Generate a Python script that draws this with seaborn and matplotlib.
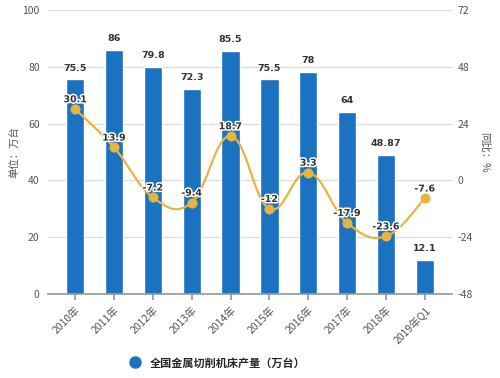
import numpy as np
import pandas as pd
import matplotlib
matplotlib.use('Agg')
import matplotlib.pyplot as plt
import matplotlib.patheffects as pe
from matplotlib.path import Path
from matplotlib.patches import PathPatch
from matplotlib.lines import Line2D
import seaborn as sns

# data
years = ['2010年', '2011年', '2012年', '2013年', '2014年', '2015年',
         '2016年', '2017年', '2018年', '2019年Q1']
output = [75.5, 86, 79.8, 72.3, 85.5, 75.5, 78, 64, 48.87, 12.1]
growth = [30.1, 13.9, -7.2, -9.4, 18.7, -12, 3.3, -17.9, -23.6, -7.6]
bar_labels = ['75.5', '86', '79.8', '72.3', '85.5', '75.5', '78', '64', '48.87', '12.1']
growth_labels = ['30.1', '13.9', '-7.2', '-9.4', '18.7', '-12', '3.3', '-17.9', '-23.6', '-7.6']

BLUE = '#1b72c0'
GOLD = '#e8b440'
GRID = '#dcdcdc'
TXT = '#555555'

sns.set_theme(style='white')
plt.rcParams['font.family'] = ['Noto Sans CJK SC', 'DejaVu Sans']
plt.rcParams['axes.unicode_minus'] = False

df = pd.DataFrame({'year': years, 'output': output})

fig = plt.figure(figsize=(5, 3.78), dpi=100)
ax = fig.add_axes([0.096, 0.222, 0.808, 0.752])
sns.barplot(data=df, x='year', y='output', color=BLUE, saturation=1,
            width=0.47, ax=ax, zorder=2)
ax.set_ylim(0, 100)
ax.set_yticks([0, 20, 40, 60, 80, 100])
ax.set_xlim(-0.7, 9.7)
ax.grid(axis='y', color=GRID, linewidth=0.9, zorder=0)
ax.set_axisbelow(True)
for s in ['top', 'right', 'left']:
    ax.spines[s].set_visible(False)
ax.spines['bottom'].set_color('#999999')
ax.tick_params(axis='y', length=0, labelsize=7.5, labelcolor=TXT, pad=6)
ax.tick_params(axis='x', length=4, color='#999999', labelsize=7.5,
               labelcolor=TXT, bottom=True, direction='out')
plt.setp(ax.get_xticklabels(), rotation=45, ha='right', rotation_mode='anchor')
ax.set_xlabel('')
ax.set_ylabel('单位：万台', fontsize=7.5, color=TXT, labelpad=2)

num_font = dict(family='DejaVu Sans', fontweight='bold', fontsize=6.8)

for i, (v, lab) in enumerate(zip(output, bar_labels)):
    ax.annotate(lab, (i, v), xytext=(0, 5), textcoords='offset points',
                ha='center', va='bottom', color='#333333', **num_font)

ax2 = ax.twinx()
ax2.set_ylim(-48, 72)
ax2.set_yticks([-48, -24, 0, 24, 48, 72])
for s in ax2.spines.values():
    s.set_visible(False)
ax2.tick_params(axis='y', length=0, labelsize=7.5, labelcolor=TXT, pad=4)
ax2.set_ylabel('同比：%', fontsize=7.5, color=TXT, rotation=270, labelpad=12)

# smooth curve through the points (bezier, drawn in data coordinates)
xs = np.arange(len(growth), dtype=float)
ys = np.array(growth, dtype=float)
pts = np.column_stack([xs, ys])
verts = [pts[0]]
codes = [Path.MOVETO]
k = 0.2
for i in range(len(pts) - 1):
    p0 = pts[i - 1] if i > 0 else pts[i]
    p1 = pts[i]
    p2 = pts[i + 1]
    p3 = pts[i + 2] if i + 2 < len(pts) else pts[i + 1]
    c1 = p1 + (p2 - p0) * k
    c2 = p2 - (p3 - p1) * k
    verts += [c1, c2, p2]
    codes += [Path.CURVE4] * 3
ax2.add_patch(PathPatch(Path(verts, codes), facecolor='none', edgecolor=GOLD,
                        linewidth=1.6, zorder=3))
sns.scatterplot(x=xs, y=ys, color=GOLD, s=45, edgecolor=GOLD, ax=ax2,
                zorder=4, legend=False)
ax2.set_xlim(-0.7, 9.7)

for i, (v, lab) in enumerate(zip(growth, growth_labels)):
    ax2.annotate(lab, (i, v), xytext=(0, 3.5), textcoords='offset points',
                 ha='center', va='bottom', color='#333333', **num_font,
                 path_effects=[pe.withStroke(linewidth=2.2, foreground='white')],
                 zorder=5)

handle = Line2D([], [], marker='o', linestyle='', markersize=8,
                markerfacecolor=BLUE, markeredgecolor=BLUE)
fig.legend([handle], ['全国金属切削机床产量（万台）'], loc='center',
           bbox_to_anchor=(0.43, 0.04), frameon=False,
           handletextpad=0.3, prop={'weight': 'bold', 'size': 8})

fig.savefig('out.png', dpi=100)
